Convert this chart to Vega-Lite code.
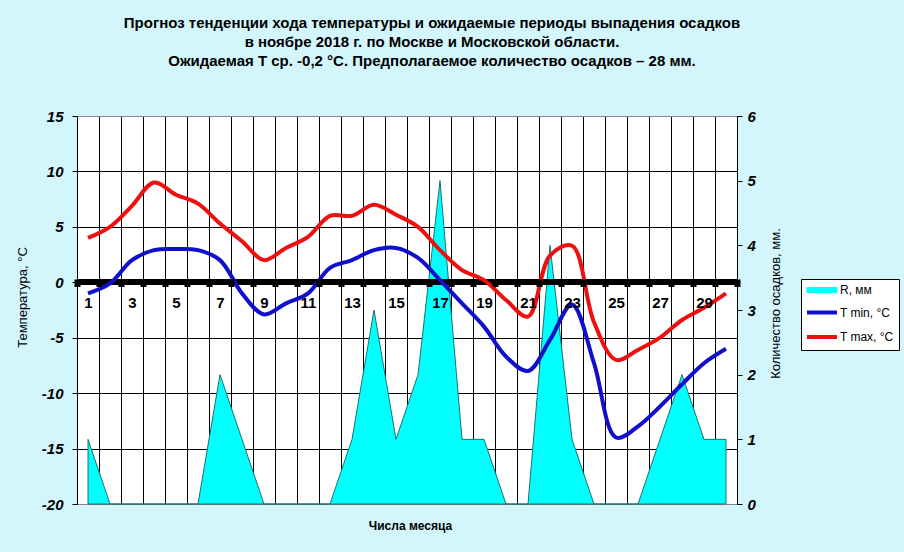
{
  "$schema": "https://vega.github.io/schema/vega-lite/v6.json",
  "width": 660,
  "height": 388,
  "autosize": {"type": "none"},
  "padding": {"left": 77, "top": 116, "right": 167, "bottom": 48},
  "background": "#d2f6fb",
  "config": {
    "font": "Liberation Sans",
    "view": {"fill": "white", "stroke": "#888888", "strokeWidth": 1}
  },
  "title": {
    "text": [
      "Прогноз тенденции хода температуры и ожидаемые периоды выпадения осадков",
      "в ноябре 2018 г. по Москве и Московской области.",
      "Ожидаемая Т ср. -0,2 °С. Предполагаемое количество осадков – 28 мм."
    ],
    "font": "Liberation Sans",
    "fontSize": 15,
    "fontWeight": "bold",
    "lineHeight": 19,
    "color": "black",
    "anchor": "middle",
    "dx": 25,
    "offset": 40
  },
  "data": {
    "values": [
      {"day": 1, "tmin": -1.0, "tmax": 4.0, "r": 1},
      {"day": 2, "tmin": -0.1, "tmax": 5.0, "r": 0},
      {"day": 3, "tmin": 2.0, "tmax": 6.9, "r": 0},
      {"day": 4, "tmin": 2.9, "tmax": 9.0, "r": 0},
      {"day": 5, "tmin": 3.0, "tmax": 7.9, "r": 0},
      {"day": 6, "tmin": 2.9, "tmax": 7.1, "r": 0},
      {"day": 7, "tmin": 2.0, "tmax": 5.3, "r": 2},
      {"day": 8, "tmin": -1.0, "tmax": 3.7, "r": 1},
      {"day": 9, "tmin": -2.9, "tmax": 2.0, "r": 0},
      {"day": 10, "tmin": -1.9, "tmax": 3.1, "r": 0},
      {"day": 11, "tmin": -1.0, "tmax": 4.1, "r": 0},
      {"day": 12, "tmin": 1.3, "tmax": 6.0, "r": 0},
      {"day": 13, "tmin": 2.0, "tmax": 6.0, "r": 1},
      {"day": 14, "tmin": 2.9, "tmax": 7.0, "r": 3},
      {"day": 15, "tmin": 3.1, "tmax": 6.1, "r": 1},
      {"day": 16, "tmin": 2.2, "tmax": 5.0, "r": 2},
      {"day": 17, "tmin": 0.2, "tmax": 2.9, "r": 5},
      {"day": 18, "tmin": -1.9, "tmax": 1.1, "r": 1},
      {"day": 19, "tmin": -4.0, "tmax": 0.2, "r": 1},
      {"day": 20, "tmin": -6.7, "tmax": -1.6, "r": 0},
      {"day": 21, "tmin": -8.0, "tmax": -3.1, "r": 0},
      {"day": 22, "tmin": -5.2, "tmax": 2.4, "r": 4},
      {"day": 23, "tmin": -2.0, "tmax": 3.3, "r": 1},
      {"day": 24, "tmin": -7.3, "tmax": -3.6, "r": 0},
      {"day": 25, "tmin": -14.0, "tmax": -7.0, "r": 0},
      {"day": 26, "tmin": -13.0, "tmax": -6.1, "r": 0},
      {"day": 27, "tmin": -11.2, "tmax": -5.0, "r": 1},
      {"day": 28, "tmin": -9.2, "tmax": -3.4, "r": 2},
      {"day": 29, "tmin": -7.3, "tmax": -2.3, "r": 1},
      {"day": 30, "tmin": -6.0, "tmax": -1.0, "r": 1}
    ]
  },
  "layer": [
    {
      "mark": {"type": "area", "fill": "#00ffff", "stroke": "#1f6f6f", "strokeWidth": 1, "interpolate": "linear", "opacity": 1},
      "encoding": {
        "x": {
          "field": "day",
          "type": "quantitative",
          "scale": {"domain": [0.5, 30.5], "nice": false, "zero": false},
          "axis": {
            "orient": "bottom",
            "values": [0.5, 1.5, 2.5, 3.5, 4.5, 5.5, 6.5, 7.5, 8.5, 9.5, 10.5, 11.5, 12.5, 13.5, 14.5, 15.5, 16.5, 17.5, 18.5, 19.5, 20.5, 21.5, 22.5, 23.5, 24.5, 25.5, 26.5, 27.5, 28.5, 29.5, 30.5],
            "grid": true,
            "gridColor": "black",
            "gridWidth": 1,
            "gridOpacity": 1,
            "labels": false,
            "ticks": false,
            "domain": false,
            "title": "Числа месяца",
            "titleFont": "Liberation Sans",
            "titleFontSize": 12,
            "titleFontWeight": "bold",
            "titleColor": "black",
            "titleBaseline": "middle",
            "titleY": 21,
            "titleX": 333
          }
        },
        "y": {
          "field": "r",
          "type": "quantitative",
          "scale": {"domain": [0, 6], "nice": false},
          "axis": {
            "orient": "right",
            "values": [0, 1, 2, 3, 4, 5, 6],
            "grid": false,
            "domainColor": "black",
            "domainWidth": 1,
            "tickColor": "black",
            "tickSize": 5,
            "labelPadding": 5,
            "labelFont": "Liberation Sans",
            "labelFontSize": 15,
            "labelFontWeight": "bold",
            "labelFontStyle": "italic",
            "labelColor": "black",
            "title": "Количество осадков, мм.",
            "titleFont": "Liberation Sans",
            "titleFontSize": 13,
            "titleFontWeight": "normal",
            "titleColor": "black",
            "titleAngle": 270,
            "titleAlign": "center",
            "titleBaseline": "middle",
            "titleX": 38,
            "titleY": 187
          }
        }
      }
    },
    {
      "layer": [
        {
          "mark": {"type": "rule", "color": "black", "strokeWidth": 5},
          "encoding": {
            "y": {"datum": 0, "type": "quantitative"}
          }
        },
        {
          "transform": [{"fold": ["tmin", "tmax"], "as": ["key", "value"]}],
          "mark": {"type": "line", "strokeWidth": 4, "interpolate": "catmull-rom"},
          "encoding": {
            "x": {
              "field": "day",
              "type": "quantitative",
              "axis": {
                "orient": "bottom",
                "offset": -225,
                "zindex": 1,
                "values": [0.5, 1.5, 2.5, 3.5, 4.5, 5.5, 6.5, 7.5, 8.5, 9.5, 10.5, 11.5, 12.5, 13.5, 14.5, 15.5, 16.5, 17.5, 18.5, 19.5, 20.5, 21.5, 22.5, 23.5, 24.5, 25.5, 26.5, 27.5, 28.5, 29.5, 30.5],
                "grid": false,
                "domain": false,
                "ticks": true,
                "tickColor": "black",
                "tickSize": 7.5,
                "tickWidth": 6,
                "labelExpr": "((datum.value + 0.5) % 2 == 1 && datum.value < 30) ? format(datum.value + 0.5, 'd') : ''",
                "labelOffset": 11,
                "labelPadding": 9,
                "labelOverlap": false,
                "labelBound": false,
                "labelFlush": false,
                "labelFont": "Liberation Sans",
                "labelFontSize": 15,
                "labelFontWeight": "bold",
                "labelColor": "black",
                "title": null
              }
            },
            "y": {
              "field": "value",
              "type": "quantitative",
              "scale": {"domain": [-20, 15], "nice": false, "zero": false},
              "axis": {
                "orient": "left",
                "values": [-20, -15, -10, -5, 0, 5, 10, 15],
                "labelExpr": "datum.value < 0 ? '-' + abs(datum.value) : '' + datum.value",
                "grid": true,
                "gridColor": {"condition": {"test": "datum.value == 15 || datum.value == -20", "value": "#888888"}, "value": "black"},
                "gridWidth": 1,
                "gridOpacity": 1,
                "domainColor": "black",
                "domainWidth": 1,
                "tickColor": "black",
                "tickSize": 5,
                "labelPadding": 9,
                "labelFont": "Liberation Sans",
                "labelFontSize": 15,
                "labelFontWeight": "bold",
                "labelFontStyle": "italic",
                "labelColor": "black",
                "title": "Температура, °C",
                "titleFont": "Liberation Sans",
                "titleFontSize": 13,
                "titleFontWeight": "normal",
                "titleColor": "black",
                "titleAngle": 270,
                "titleAlign": "center",
                "titleBaseline": "middle",
                "titleX": -55,
                "titleY": 181
              }
            },
            "stroke": {
              "field": "key",
              "type": "nominal",
              "title": null,
              "scale": {"domain": ["r", "tmin", "tmax"], "range": ["#00ffff", "#1010cc", "#ee1010"]},
              "legend": {
                "orient": "none",
                "legendX": 724,
                "legendY": 163,
                "title": null,
                "fillColor": "white",
                "strokeColor": "black",
                "padding": 5,
                "rowPadding": 8.5,
                "symbolSize": 100,
                "labelOffset": 22,
                "labelFont": "Liberation Sans",
                "labelFontSize": 12,
                "labelColor": "black",
                "labelExpr": "datum.value == 'r' ? 'R, мм' : datum.value == 'tmin' ? 'T min, °C' : 'T max, °C'",
                "encode": {
                  "symbols": {
                    "update": {
                      "shape": {"signal": "datum.value == 'r' ? 'M-1,-0.5H5V0.5H-1Z' : 'M-1,0H5'"},
                      "fill": {"signal": "datum.value == 'r' ? '#00ffff' : 'transparent'"},
                      "stroke": {"signal": "datum.value == 'r' ? '#1f6f6f' : (datum.value == 'tmin' ? '#1010cc' : '#ee1010')"},
                      "strokeWidth": {"signal": "datum.value == 'r' ? 1 : 4"},
                      "opacity": {"value": 1}
                    }
                  }
                }
              }
            }
          }
        }
      ]
    }
  ],
  "resolve": {"scale": {"y": "independent"}, "axis": {"x": "independent"}}
}
